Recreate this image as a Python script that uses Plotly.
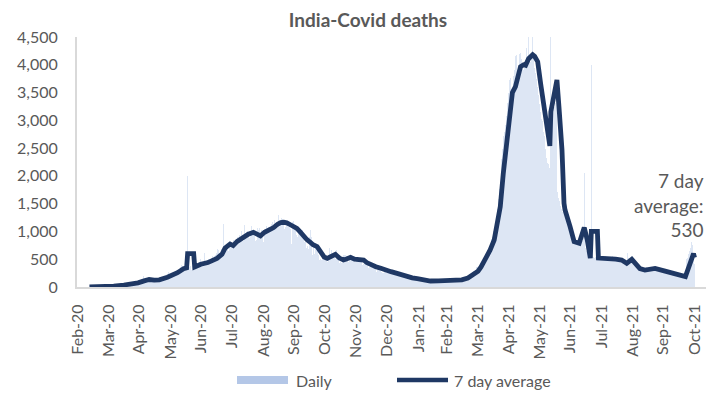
import pandas as pd
import plotly.graph_objects as go

# ---------------- data ----------------
month_starts = ["2020-03-12", "2020-04-01", "2020-05-01", "2020-06-01", "2020-07-01",
                "2020-08-01", "2020-09-01", "2020-10-01", "2020-11-01", "2020-12-01",
                "2021-01-01", "2021-02-01", "2021-03-01", "2021-04-01", "2021-05-01",
                "2021-06-01", "2021-07-01", "2021-08-01", "2021-09-01", "2021-10-01"]

daily_by_month = [
    [1, 0, 0, 1, 0, 0, 1, 1, 0, 1, 3, 2, 1, 4, 4, 5, 2, 6, 5, 8],
    [8, 12, 6, 12, 13, 11, 15, 16, 20, 30, 28, 35, 32, 25, 37, 38, 30, 32, 36, 47,
     43, 50, 37, 58, 56, 46, 52, 60, 70, 73],
    [77, 83, 68, 194, 126, 103, 95, 120, 128, 97, 87, 100, 120, 134, 101, 157, 140, 132, 147, 142,
     148, 154, 137, 146, 170, 148, 175, 194, 265, 193, 230],
    [204, 260, 230, 261, 294, 287, 258, 266, 246, 357, 396, 386, 311, 325, 380, 330, 2003, 336, 364, 375,
     306, 445, 465, 312, 418, 384, 407, 380, 418, 507],
    [434, 379, 442, 613, 425, 467, 482, 507, 475, 487, 519, 551, 500, 553, 582, 606, 687, 671, 543, 681,
     587, 1129, 740, 757, 705, 708, 654, 779, 768, 775, 764],
    [853, 771, 803, 857, 904, 886, 933, 861, 1007, 871, 834, 1115, 942, 996, 1007, 944, 876, 941, 1092, 977,
     983, 912, 836, 848, 1059, 1023, 1065, 948, 1021, 971, 819],
    [1045, 1025, 1096, 1065, 1089, 1065, 1016, 1133, 1172, 1095, 1201, 1114, 1136, 1054, 1290, 1132, 1174, 1247, 1221, 1130,
     1053, 1085, 1129, 1141, 1089, 1124, 1039, 776, 1179, 1181],
    [1069, 1095, 940, 903, 1069, 986, 971, 963, 1034, 918, 816, 706, 730, 680, 895, 1033, 895, 579, 717, 587,
     703, 680, 650, 578, 480, 500, 488, 517, 550, 563, 551],
    [470, 449, 490, 704, 577, 670, 577, 559, 577, 512, 673, 547, 554, 435, 447, 435, 474, 584, 584, 576,
     562, 511, 449, 490, 524, 482, 517, 485, 496, 443],
    [482, 540, 526, 498, 524, 511, 402, 411, 512, 442, 411, 391, 336, 354, 387, 355, 347, 344, 341, 333,
     279, 336, 333, 312, 299, 278, 251, 257, 299, 286, 252],
    [267, 254, 247, 241, 266, 264, 242, 247, 238, 233, 200, 222, 219, 208, 201, 185, 175, 167, 182, 171,
     173, 169, 151, 147, 141, 137, 133, 164, 153, 137, 128],
    [127, 114, 107, 138, 108, 104, 112, 94, 113, 100, 103, 101, 96, 91, 90, 92, 100, 101, 111, 99,
     99, 108, 112, 103, 117, 106, 120, 114],
    [106, 110, 113, 123, 108, 113, 99, 96, 112, 131, 117, 113, 136, 131, 104, 138, 152, 158, 164, 168,
     179, 192, 209, 235, 257, 262, 291, 271, 302, 354, 359],
    [402, 436, 458, 471, 508, 535, 590, 612, 655, 694, 746, 781, 862, 895, 1012, 1043, 1160, 1238, 1412, 1587,
     1766, 1894, 2312, 2488, 2715, 2791, 2924, 3087, 3316, 3489],
    [3720, 3760, 3450, 3560, 3790, 3910, 4150, 4180, 3820, 3860, 4200, 4220, 4100, 3960, 3900, 3950, 4060, 4310, 4150, 4560,
     4100, 4050, 4150, 4600, 4200, 3950, 3850, 3750, 3600, 3450, 3300],
    [3157, 3028, 2981, 2786, 2713, 2492, 2318, 2241, 2219, 2137, 6148, 3403, 3296, 3361, 3244, 3310, 3348, 1712, 1596, 1547,
     1463, 1398, 1352, 1314, 1241, 1208, 1147, 1094, 1062, 1006],
    [1004, 953, 897, 862, 804, 826, 853, 781, 806, 762, 784, 823, 905, 2050, 703, 652, 604, 562, 518, 532,
     3998, 561, 543, 521, 534, 503, 512, 524, 541, 562, 548],
    [522, 531, 478, 562, 541, 533, 508, 497, 521, 489, 553, 528, 502, 491, 478, 462, 503, 518, 472, 461,
     443, 421, 398, 432, 418, 605, 523, 509, 481, 452, 421],
    [418, 389, 362, 341, 318, 302, 311, 328, 297, 322, 289, 301, 318, 352, 331, 338, 322, 358, 331, 309,
     348, 321, 302, 288, 309, 281, 272, 291, 278, 301],
    [282, 268, 262, 251, 273, 258, 248, 241, 252, 231, 239, 221, 232, 211, 203, 192, 198, 183, 191, 172,
     178, 188, 498, 521, 603, 648, 702, 812, 755, 612, 412],
]

avg_dates = [
    "2020-03-12", "2020-03-25", "2020-04-05", "2020-04-15", "2020-04-22", "2020-04-29", "2020-05-05",
    "2020-05-10", "2020-05-15", "2020-05-20", "2020-05-28", "2020-06-02", "2020-06-07", "2020-06-13",
    "2020-06-16", "2020-06-17", "2020-06-23", "2020-06-24", "2020-06-30", "2020-07-07", "2020-07-12",
    "2020-07-16", "2020-07-21", "2020-07-24", "2020-07-29", "2020-08-01", "2020-08-05", "2020-08-11",
    "2020-08-16", "2020-08-21", "2020-08-25", "2020-08-28", "2020-09-01", "2020-09-05", "2020-09-10",
    "2020-09-14", "2020-09-17", "2020-09-20", "2020-09-23", "2020-09-27", "2020-10-03", "2020-10-06",
    "2020-10-10", "2020-10-13", "2020-10-16", "2020-10-19", "2020-10-23", "2020-10-27", "2020-10-30",
    "2020-11-02", "2020-11-06", "2020-11-10", "2020-11-14", "2020-11-18", "2020-11-21", "2020-11-25",
    "2020-11-29", "2020-12-03", "2020-12-08", "2020-12-11", "2020-12-15", "2020-12-20", "2020-12-25",
    "2020-12-30", "2021-01-04", "2021-01-10", "2021-01-15", "2021-01-20", "2021-01-25", "2021-01-30",
    "2021-02-05", "2021-02-12", "2021-02-20", "2021-02-28", "2021-03-05", "2021-03-10", "2021-03-15",
    "2021-03-21", "2021-03-26", "2021-03-31", "2021-04-03", "2021-04-06", "2021-04-09", "2021-04-12",
    "2021-04-16", "2021-04-19", "2021-04-22", "2021-04-25", "2021-04-29", "2021-05-02", "2021-05-04",
    "2021-05-07", "2021-05-10", "2021-05-12", "2021-05-15", "2021-05-17", "2021-05-20", "2021-05-24",
    "2021-05-26", "2021-05-29", "2021-06-01", "2021-06-04", "2021-06-07", "2021-06-10", "2021-06-11",
    "2021-06-14", "2021-06-17", "2021-06-19", "2021-06-22", "2021-06-24", "2021-06-25", "2021-06-30",
    "2021-07-04", "2021-07-09", "2021-07-14", "2021-07-17", "2021-07-20", "2021-07-21", "2021-07-27",
    "2021-07-28", "2021-08-07", "2021-08-14", "2021-08-20", "2021-08-25", "2021-08-30", "2021-09-03",
    "2021-09-07", "2021-09-12", "2021-09-17", "2021-09-22", "2021-10-01", "2021-10-12", "2021-10-22",
    "2021-10-30", "2021-10-31",
]
avg_values = [
    0, 3, 15, 35, 50, 75, 110,
    135, 125, 128, 175, 215, 258, 330,
    345, 600, 600, 360, 410, 440, 480,
    516, 590, 700, 774, 745, 820, 894,
    950, 984, 955, 920, 985, 1014, 1070,
    1130, 1160, 1165, 1155, 1116, 1056, 996,
    900, 850, 810, 760, 726, 620, 540,
    516, 560, 588, 520, 486, 505, 534,
    500, 486, 486, 440, 396, 365, 336,
    295, 276, 246, 215, 186, 165, 150,
    125, 108, 110, 114, 112, 110, 130,
    163, 220, 285, 360, 455, 560, 666,
    846, 1100, 1446, 2046, 2706, 3306, 3500,
    3606, 3850, 3966, 4000, 3990, 4110, 4180,
    4150, 4056, 3650, 3246, 2900, 2538, 3156,
    3450, 3726, 3246, 2466, 1506, 1386, 1086,
    816, 786, 1070, 846, 520, 1000, 1000,
    520, 516, 500, 486, 426, 498, 420,
    330, 306, 325, 336, 290, 246, 186,
    600, 530,
]

tick_dates = ["2020-02-29", "2020-03-31", "2020-04-30", "2020-05-31", "2020-06-30", "2020-07-31",
              "2020-08-31", "2020-09-30", "2020-10-31", "2020-11-30", "2020-12-31", "2021-01-31",
              "2021-02-28", "2021-03-31", "2021-04-30", "2021-05-31", "2021-06-30", "2021-07-31",
              "2021-08-31", "2021-09-30", "2021-10-31"]
tick_labels = ["Feb-20", "Mar-20", "Apr-20", "May-20", "Jun-20", "Jul-20", "Aug-20", "Sep-20",
               "Oct-20", "Nov-20", "Dec-20", "Jan-21", "Feb-21", "Mar-21", "Apr-21", "May-21",
               "Jun-21", "Jul-21", "Aug-21", "Sep-21", "Oct-21"]

y_ticks = [0, 500, 1000, 1500, 2000, 2500, 3000, 3500, 4000, 4500]
last_avg_label = "7 day<br>average:<br>530"

# ---------------- build ----------------
daily_dates = []
daily_values = []
for start, vals in zip(month_starts, daily_by_month):
    daily_dates.extend(pd.date_range(start, periods=len(vals), freq="D"))
    daily_values.extend(vals)

FONT = "Lato"
GREY = "#595959"
NAVY = "#1F3864"
BAR = "#B4C7E7"

fig = go.Figure()
fig.add_trace(go.Bar(x=daily_dates, y=daily_values, name="Daily",
                     marker=dict(color="rgba(180,199,231,0.45)", line=dict(width=0))))
fig.add_trace(go.Scatter(x=avg_dates, y=avg_values, name="7 day average", mode="lines",
                         line=dict(color=NAVY, width=4.8)))

# The page body has an 8px margin, so the figure is drawn 8px smaller and all
# screen positions below are expressed in window pixels (plot area x 77..706, y 37..287).
OFF = 8
W, H = 715 - OFF, 393 - OFF


def px_x(p):
    return (p - 77) / 629.0


def px_y(p):
    return (287 - p) / 250.0


fig.update_layout(
    width=W, height=H,
    margin=dict(l=77 - OFF, r=W - (706 - OFF), t=37 - OFF, b=H - (287 - OFF), autoexpand=False),
    paper_bgcolor="white", plot_bgcolor="white",
    showlegend=False, bargap=0,
    font=dict(family=FONT, color=GREY, size=16),
    title=dict(text="<b>India-Covid deaths</b>", x=(368 - OFF) / W, xanchor="center",
               y=1 - 6 / H, yanchor="top", pad=dict(t=0, b=0),
               font=dict(family=FONT, size=19, color=GREY)),
    xaxis=dict(type="date", range=["2020-02-28 16:00", "2021-11-11 08:00"], automargin=False,
               tickmode="array", tickvals=tick_dates, ticktext=tick_labels, tickangle=-90,
               showline=True, linecolor="#D9D9D9", linewidth=2, showgrid=False, zeroline=False,
               ticks="", ticklabelstandoff=9, tickfont=dict(size=16, color=GREY, family=FONT)),
    yaxis=dict(range=[0, 4500], tickmode="array", tickvals=y_ticks, tickformat=",", automargin=False,
               showline=True, linecolor="#D9D9D9", linewidth=2, showgrid=False, zeroline=False,
               ticks="", ticklabelstandoff=14, tickfont=dict(size=16, color=GREY, family=FONT)),
)

fig.add_annotation(text=last_avg_label, xref="paper", yref="paper", x=px_x(706), y=px_y(205),
                   xanchor="right", yanchor="middle", align="right", showarrow=False,
                   font=dict(family=FONT, size=19, color=GREY))

# legend drawn below the plot
fig.add_shape(type="rect", xref="paper", yref="paper", x0=px_x(237), x1=px_x(288),
              y0=px_y(384), y1=px_y(376), fillcolor=BAR, line=dict(width=0))
fig.add_shape(type="line", xref="paper", yref="paper", x0=px_x(397), x1=px_x(448),
              y0=px_y(380), y1=px_y(380), line=dict(color=NAVY, width=4.5))
fig.add_annotation(text="Daily", xref="paper", yref="paper", x=px_x(294), y=px_y(380),
                   xanchor="left", yanchor="middle", showarrow=False,
                   font=dict(family=FONT, size=16, color=GREY))
fig.add_annotation(text="7 day average", xref="paper", yref="paper", x=px_x(452), y=px_y(380),
                   xanchor="left", yanchor="middle", showarrow=False,
                   font=dict(family=FONT, size=16, color=GREY))

fig.write_html("out.html")
